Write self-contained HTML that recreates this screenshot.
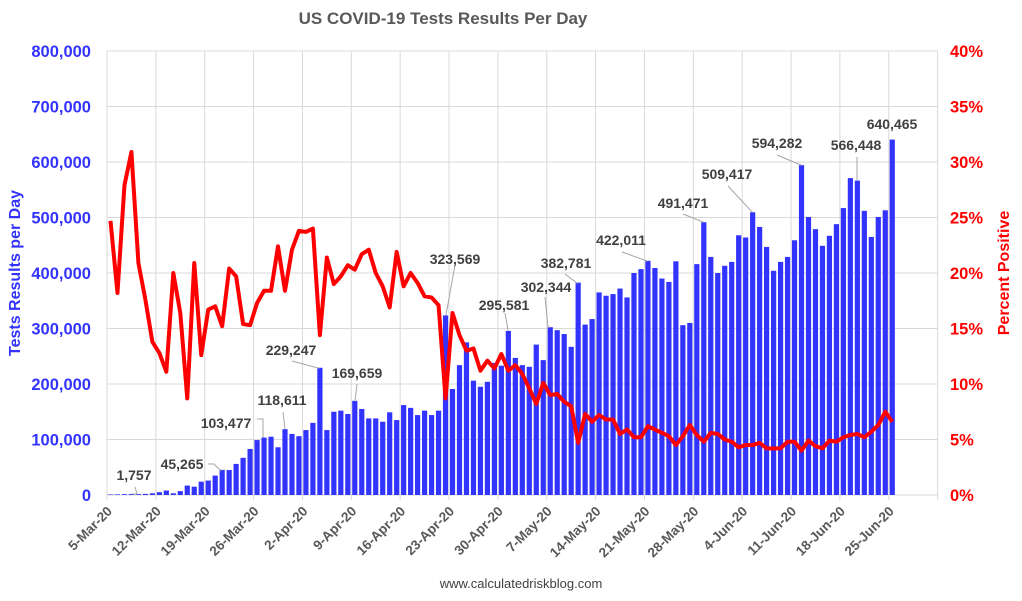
<!DOCTYPE html>
<html><head><meta charset="utf-8"><style>
body{margin:0;background:#fff}
svg{display:block;font-family:"Liberation Sans",sans-serif}
</style></head><body>
<svg id="chart" width="1022" height="601"></svg>
<script>
const tests=[1000,1200,1500,1757,1600,2000,3000,5000,8000,3000,7000,17000,15000,24000,26000,35000,45265,45000,56000,67000,83000,99000,103477,105000,86000,118611,110000,106000,117000,130000,229247,117000,150000,152000,146000,169659,155000,138000,138000,132000,149000,135000,162000,157000,144000,152000,144000,152000,323569,191000,234000,275000,206000,195000,204000,238000,233000,295581,247000,234000,231000,271000,243000,302344,297000,290000,267000,382781,307000,317000,365000,359000,362000,372000,356000,400000,407000,422011,409000,390000,384000,421000,306000,310000,416000,491471,429000,400000,413000,420000,468000,464000,509417,483000,447000,404000,420000,429000,459000,594282,501000,479000,449000,467000,488000,517000,571000,566448,512000,465000,501000,513000,640465];
const pct=[24.7,18.2,27.9,30.9,20.9,17.6,13.8,12.8,11.1,20.0,16.4,8.7,20.9,12.6,16.7,17.0,15.2,20.4,19.7,15.4,15.3,17.3,18.4,18.4,22.4,18.4,22.1,23.8,23.7,24.0,14.4,21.4,19.0,19.7,20.7,20.3,21.7,22.1,20.0,18.8,16.9,21.9,18.8,20.0,19.1,17.9,17.8,17.1,8.7,16.4,14.4,13.0,13.2,11.2,12.1,11.4,12.7,11.2,11.7,10.9,9.6,8.2,10.1,9.0,9.1,8.4,8.0,4.7,7.3,6.6,7.2,6.8,6.8,5.5,5.9,5.2,5.2,6.2,5.9,5.6,5.3,4.5,5.3,6.3,5.4,4.8,5.6,5.5,5.0,4.8,4.3,4.5,4.5,4.7,4.2,4.2,4.2,4.8,4.8,4.0,4.9,4.4,4.2,4.9,4.8,5.2,5.4,5.5,5.2,5.7,6.3,7.5,6.6];
const leftTicks=[0,100000,200000,300000,400000,500000,600000,700000,800000];
const rightTicks=[0,5,10,15,20,25,30,35,40];
const dateLabels=["5-Mar-20","12-Mar-20","19-Mar-20","26-Mar-20","2-Apr-20","9-Apr-20","16-Apr-20","23-Apr-20","30-Apr-20","7-May-20","14-May-20","21-May-20","28-May-20","4-Jun-20","11-Jun-20","18-Jun-20","25-Jun-20"];
// [dayIndex, label, labelX, labelBaseline, leader points...]
const annotations=[
[3,"1,757",134,480,"135,487 137,494"],
[16,"45,265",182,469,"208,464 214,464 220,470"],
[22,"103,477",226,428,"257,419 263,419 263,437"],
[25,"118,611",282,405,"283,412 285,429"],
[30,"229,247",291,355,"292,361 318,368"],
[35,"169,659",357,378,"357,384 355,401"],
[48,"323,569",455,264,"455,265 446,315"],
[57,"295,581",504,310,"505,313 508,330"],
[63,"302,344",546,292,"545,297 548,327"],
[67,"382,781",566,268,"565,274 577,283"],
[77,"422,011",621,245,"622,252 647,261"],
[85,"491,471",683,208,"683,214 703,222"],
[92,"509,417",727,179,"728,186 752,212"],
[99,"594,282",777,148,"777,155 801,165"],
[107,"566,448",856,150,"857,157 857,180"],
[112,"640,465",892,129,""]];

const NS="http://www.w3.org/2000/svg";
const svg=document.getElementById('chart');
const X0=107,DX=6.98,NCAT=119,Y0=495,YTOP=51;
const xs=i=>X0+DX*(i+0.5);
const yL=v=>Y0-(v/800000)*(Y0-YTOP);
const yR=p=>Y0-(p/40)*(Y0-YTOP);
function mk(t,a,txt){const e=document.createElementNS(NS,t);for(const k in a)e.setAttribute(k,a[k]);if(txt!=null)e.textContent=txt;svg.appendChild(e);return e;}

leftTicks.forEach(v=>{const l=mk('line',{x1:X0,x2:X0+DX*NCAT,y1:yL(v),y2:yL(v),stroke:'#d9d9d9','stroke-width':1});

});
for(let k=0;k*7<=NCAT;k++){const x=X0+DX*7*k;const l=mk('line',{x1:x,x2:x,y1:YTOP,y2:Y0+5,stroke:'#d9d9d9','stroke-width':1});

}

tests.forEach((v,i)=>{const r=mk('rect',{x:xs(i)-2.6,y:yL(v),width:5.2,height:Y0-yL(v),fill:'#3333ff'});

});

const pl=mk('polyline',{points:pct.map((p,i)=>xs(i)+','+yR(p)).join(' '),fill:'none',stroke:'#ff0000','stroke-width':4,'stroke-linejoin':'round'});



annotations.forEach(a=>{
if(a[4]){const ln=mk('polyline',{points:a[4]+' '+xs(a[0])+','+yL(tests[a[0]]),fill:'none',stroke:'#a6a6a6','stroke-width':1});

}
const t=mk('text',{x:a[2],y:a[3],'text-anchor':'middle','font-size':14,'font-weight':'bold',fill:'#404040'},a[1]);

});

leftTicks.forEach(v=>{const t=mk('text',{x:91,y:yL(v)+6,'text-anchor':'end','font-size':16.5,'font-weight':'bold',fill:'#3333ff'},v.toLocaleString('en-US'));

});
rightTicks.forEach(p=>{const t=mk('text',{x:950,y:yR(p)+6,'text-anchor':'start','font-size':16.5,'font-weight':'bold',fill:'#ff0000'},p+'%');

});

dateLabels.forEach((d,k)=>{const x=X0+DX*7*k+6,y=512;
const t=mk('text',{x:x,y:y,'text-anchor':'end','font-size':13.5,'font-weight':'bold',fill:'#595959',transform:`rotate(-45 ${x} ${y})`},d);

});

let t=mk('text',{x:443,y:24,'text-anchor':'middle','font-size':17,'font-weight':'bold',fill:'#595959'},'US COVID-19 Tests Results Per Day');


t=mk('text',{x:20,y:273,'text-anchor':'middle','font-size':16,'font-weight':'bold',fill:'#3333ff',transform:'rotate(-90 20 273)'},'Tests Results per Day');


t=mk('text',{x:1009,y:273,'text-anchor':'middle','font-size':16,'font-weight':'bold',fill:'#ff0000',transform:'rotate(-90 1009 273)'},'Percent Positive');


t=mk('text',{x:521,y:588,'text-anchor':'middle','font-size':13,fill:'#404040'},'www.calculatedriskblog.com');


</script>
</body></html>
